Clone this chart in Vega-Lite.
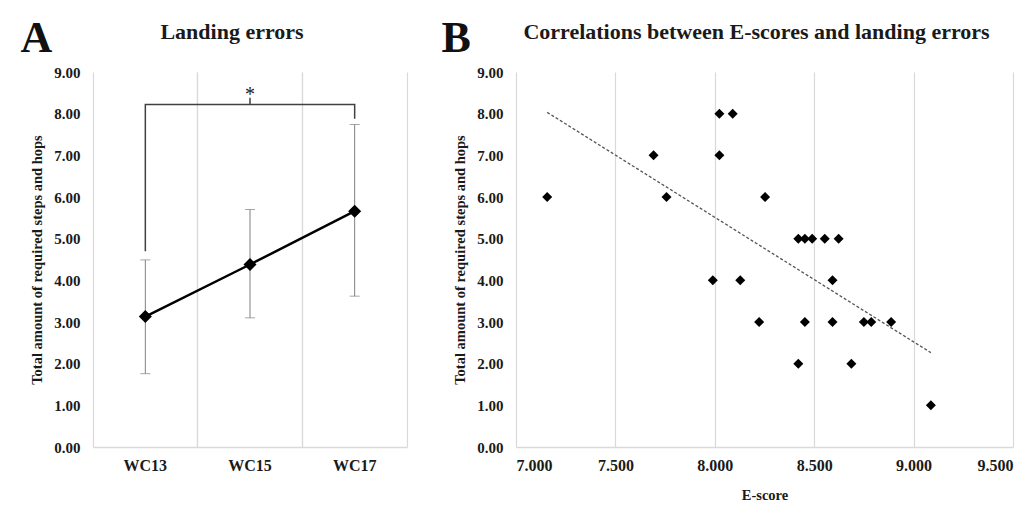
{
  "$schema": "https://vega.github.io/schema/vega-lite/v6.json",
  "background": "white",
  "padding": {"left": 20, "top": 16, "right": 5, "bottom": 5},
  "spacing": 34,
  "config": {
    "view": {"stroke": null},
    "font": "Liberation Serif",
    "axis": {"labelColor": "#1a1a1a", "titleColor": "#1a1a1a", "labelFont": "Liberation Serif", "titleFont": "Liberation Serif"},
    "title": {"font": "Liberation Serif", "fontWeight": "bold", "fontSize": 22, "color": "#1a1a1a"}
  },
  "datasets": {
    "means": [
      {"wave": "WC13", "mean": 3.13, "lo": 1.76, "hi": 4.49},
      {"wave": "WC15", "mean": 4.38, "lo": 3.10, "hi": 5.70},
      {"wave": "WC17", "mean": 5.66, "lo": 3.62, "hi": 7.74}
    ],
    "bracket": [
      {"wave": "WC13", "y": 4.70, "step": 1},
      {"wave": "WC13", "y": 8.22, "step": 2},
      {"wave": "WC17", "y": 8.22, "step": 3},
      {"wave": "WC17", "y": 7.88, "step": 4}
    ],
    "sig": [
      {"wave": "WC15", "y": 8.22, "y2": 8.38, "ystar": 8.45, "label": "*"}
    ],
    "scores": [
      {"escore": 7.157, "errors": 6},
      {"escore": 7.692, "errors": 7},
      {"escore": 7.757, "errors": 6},
      {"escore": 8.023, "errors": 8},
      {"escore": 8.023, "errors": 7},
      {"escore": 8.090, "errors": 8},
      {"escore": 7.990, "errors": 4},
      {"escore": 8.128, "errors": 4},
      {"escore": 8.223, "errors": 3},
      {"escore": 8.253, "errors": 6},
      {"escore": 8.420, "errors": 5},
      {"escore": 8.453, "errors": 5},
      {"escore": 8.490, "errors": 5},
      {"escore": 8.553, "errors": 5},
      {"escore": 8.623, "errors": 5},
      {"escore": 8.592, "errors": 4},
      {"escore": 8.453, "errors": 3},
      {"escore": 8.592, "errors": 3},
      {"escore": 8.750, "errors": 3},
      {"escore": 8.787, "errors": 3},
      {"escore": 8.887, "errors": 3},
      {"escore": 8.420, "errors": 2},
      {"escore": 8.687, "errors": 2},
      {"escore": 9.087, "errors": 1}
    ]
  },
  "hconcat": [
    {
      "width": 314,
      "height": 375,
      "title": {"text": "Landing errors", "anchor": "middle", "frame": "group", "dx": -18, "offset": -28},
      "resolve": {"axis": {"x": "independent", "y": "independent"}},
      "layer": [
        {
          "data": {"name": "means"},
          "mark": {"type": "rule", "color": "#808080", "strokeWidth": 1},
          "encoding": {
            "x": {"field": "wave", "type": "nominal", "sort": ["WC13", "WC15", "WC17"],
              "scale": {"type": "band", "paddingInner": 0, "paddingOuter": 0},
              "axis": {"orient": "bottom", "title": null, "labelAngle": 0, "labelFontSize": 16, "labelFontWeight": "bold", "labelPadding": 10, "ticks": false, "domainColor": "#d9d9d9", "domainWidth": 1.5, "grid": false}},
            "y": {"field": "lo", "type": "quantitative",
              "scale": {"domain": [0, 9], "nice": false},
              "axis": {"orient": "left", "values": [0, 1, 2, 3, 4, 5, 6, 7, 8, 9], "format": ".2f", "grid": false, "domain": false, "ticks": false, "tickSize": 0, "labelFontSize": 15, "labelFontWeight": "bold", "labelPadding": 13, "title": "Total amount of required steps and hops", "titleFontSize": 14.5, "titleFontWeight": "bold", "titlePadding": 9}},
            "y2": {"field": "hi"}
          }
        },
        {
          "data": {"name": "means"},
          "mark": {"type": "tick", "color": "#808080", "size": 10, "thickness": 1},
          "encoding": {
            "x": {"field": "wave", "type": "nominal", "axis": {"orient": "bottom", "labels": false, "ticks": false, "domain": false, "title": null, "grid": true, "gridColor": "#d9d9d9", "gridWidth": 1.2, "bandPosition": 0}},
            "y": {"field": "lo", "type": "quantitative", "axis": null}
          }
        },
        {
          "data": {"name": "means"},
          "mark": {"type": "tick", "color": "#808080", "size": 10, "thickness": 1},
          "encoding": {
            "x": {"field": "wave", "type": "nominal", "axis": null},
            "y": {"field": "hi", "type": "quantitative", "axis": null}
          }
        },
        {
          "data": {"name": "means"},
          "mark": {"type": "line", "color": "#000000", "strokeWidth": 2.5},
          "encoding": {
            "x": {"field": "wave", "type": "nominal", "axis": null},
            "y": {"field": "mean", "type": "quantitative", "axis": null}
          }
        },
        {
          "data": {"name": "means"},
          "mark": {"type": "point", "shape": "diamond", "filled": true, "color": "#000000", "size": 170, "opacity": 1},
          "encoding": {
            "x": {"field": "wave", "type": "nominal", "axis": null},
            "y": {"field": "mean", "type": "quantitative", "axis": null}
          }
        },
        {
          "data": {"name": "bracket"},
          "mark": {"type": "line", "color": "#404040", "strokeWidth": 1.5},
          "encoding": {
            "x": {"field": "wave", "type": "nominal",
              "axis": {"orient": "top", "labels": false, "ticks": false, "domain": false, "grid": true, "gridColor": "#d9d9d9", "gridWidth": 1.2, "bandPosition": 1,
                "title": "A", "titleX": -73, "titleY": -21, "titleAlign": "left", "titleAngle": 0, "titleBaseline": "alphabetic", "titleFontSize": 44, "titleFontWeight": "bold", "titleColor": "#111111"}},
            "y": {"field": "y", "type": "quantitative", "axis": null},
            "order": {"field": "step", "type": "quantitative"}
          }
        },
        {
          "data": {"name": "sig"},
          "mark": {"type": "rule", "color": "#404040", "strokeWidth": 1.5},
          "encoding": {
            "x": {"field": "wave", "type": "nominal", "axis": null},
            "y": {"field": "y", "type": "quantitative", "axis": null},
            "y2": {"field": "y2"}
          }
        },
        {
          "data": {"name": "sig"},
          "mark": {"type": "text", "fontSize": 20, "font": "Liberation Serif", "color": "#222222", "baseline": "middle"},
          "encoding": {
            "x": {"field": "wave", "type": "nominal", "axis": null},
            "y": {"field": "ystar", "type": "quantitative", "axis": null},
            "text": {"field": "label"}
          }
        }
      ]
    },
    {
      "width": 497,
      "height": 375,
      "title": {"text": "Correlations between E-scores and landing errors", "anchor": "middle", "frame": "group", "dx": -8, "offset": -28},
      "resolve": {"axis": {"x": "independent", "y": "independent"}},
      "layer": [
        {
          "data": {"name": "scores"},
          "mark": {"type": "point", "shape": "diamond", "filled": true, "color": "#000000", "size": 100, "opacity": 1},
          "encoding": {
            "x": {"field": "escore", "type": "quantitative",
              "scale": {"domain": [7, 9.5], "nice": false, "zero": false},
              "axis": {"orient": "bottom", "values": [7, 7.5, 8, 8.5, 9, 9.5], "format": ".3f", "grid": true, "gridColor": "#d9d9d9", "gridWidth": 1.2, "ticks": false, "domainColor": "#d9d9d9", "domainWidth": 1.5, "labelFontSize": 16, "labelFontWeight": "bold", "labelPadding": 10, "title": "E-score", "titleFontSize": 14.5, "titleFontWeight": "bold", "titlePadding": 15}},
            "y": {"field": "errors", "type": "quantitative",
              "scale": {"domain": [0, 9], "nice": false},
              "axis": {"orient": "left", "values": [0, 1, 2, 3, 4, 5, 6, 7, 8, 9], "format": ".2f", "grid": false, "domain": false, "ticks": false, "tickSize": 0, "labelFontSize": 15, "labelFontWeight": "bold", "labelPadding": 13, "title": "Total amount of required steps and hops", "titleFontSize": 14.5, "titleFontWeight": "bold", "titlePadding": 9}}
          }
        },
        {
          "data": {"name": "scores"},
          "transform": [{"regression": "errors", "on": "escore"}],
          "mark": {"type": "line", "color": "#555555", "strokeWidth": 1.3, "strokeDash": [3, 2]},
          "encoding": {
            "x": {"field": "escore", "type": "quantitative",
              "axis": {"orient": "top", "labels": false, "ticks": false, "domain": false, "grid": false,
                "title": "B", "titleX": -75, "titleY": -21, "titleAlign": "left", "titleAngle": 0, "titleBaseline": "alphabetic", "titleFontSize": 44, "titleFontWeight": "bold", "titleColor": "#111111"}},
            "y": {"field": "errors", "type": "quantitative", "axis": null}
          }
        }
      ]
    }
  ]
}
